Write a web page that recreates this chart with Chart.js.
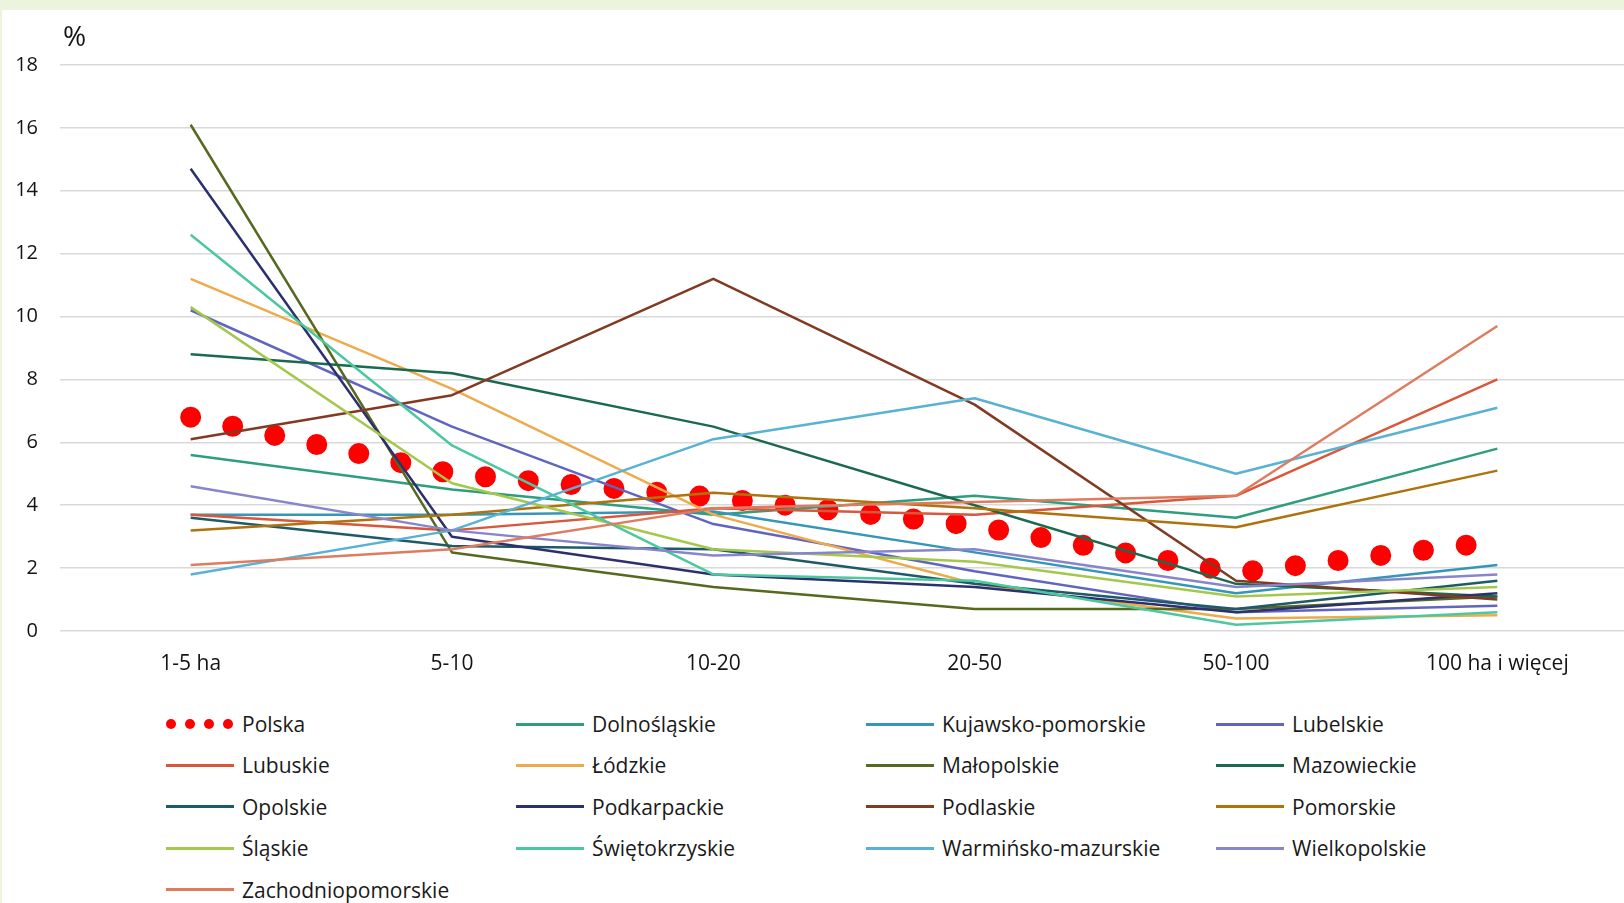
<!DOCTYPE html>
<html lang="pl">
<head>
<meta charset="utf-8">
<title>Gospodarstwa według grup obszarowych</title>
<script src="https://cdn.jsdelivr.net/npm/chart.js@4.4.1/dist/chart.umd.min.js"></script>
<style>
  html, body { margin: 0; padding: 0; }
  body {
    width: 1624px; height: 903px; position: relative; overflow: hidden;
    background: #ebf4dc; font-family: "Open Sans", sans-serif;
  }
  #panel { position: absolute; left: 2px; top: 10px; right: 0; bottom: 0; background: #fff; }
  #wykres { position: absolute; left: 0; top: 0; }
  #legenda { position: absolute; left: 0; top: 0; }
  .poz {
    position: absolute; height: 28px; display: flex; align-items: center;
    font-size: 21px; color: #1a1a1a; white-space: nowrap;
  }
  .znak { position: relative; width: 68px; height: 10px; margin-right: 8px; }
  .linia { position: absolute; left: 0; right: 0; top: 3.5px; height: 3px; }
  .kropka { position: absolute; top: 0; width: 10px; height: 10px; border-radius: 50%; }
</style>
</head>
<body>
<div id="panel"></div>
<canvas id="wykres" width="1628" height="682"></canvas>
<div id="legenda"></div>

<script>
const kategorie = ['1-5 ha', '5-10', '10-20', '20-50', '50-100', '100 ha i więcej'];

// udział gospodarstw w danej grupie obszarowej, %
const polska             = [6.8, 5.0, 4.25, 3.35, 1.85, 2.85];
const dolnoslaskie       = [5.6, 4.5, 3.7, 4.3, 3.6, 5.8];
const kujawskoPomorskie  = [3.7, 3.7, 3.8, 2.5, 1.2, 2.1];
const lubelskie          = [10.2, 6.5, 3.4, 1.9, 0.6, 0.8];
const lubuskie           = [3.7, 3.2, 3.9, 3.7, 4.3, 8.0];
const lodzkie            = [11.2, 7.7, 3.7, 1.5, 0.4, 0.5];
const malopolskie        = [16.1, 2.5, 1.4, 0.7, 0.7, 1.1];
const mazowieckie        = [8.8, 8.2, 6.5, 4.0, 1.5, 1.1];
const opolskie           = [3.6, 2.7, 2.6, 1.5, 0.7, 1.6];
const podkarpackie       = [14.7, 3.0, 1.8, 1.4, 0.6, 1.2];
const podlaskie          = [6.1, 7.5, 11.2, 7.2, 1.6, 1.0];
const pomorskie          = [3.2, 3.7, 4.4, 3.9, 3.3, 5.1];
const slaskie            = [10.3, 4.7, 2.6, 2.2, 1.1, 1.4];
const swietokrzyskie     = [12.6, 5.9, 1.8, 1.6, 0.2, 0.6];
const warminskoMazurskie = [1.8, 3.2, 6.1, 7.4, 5.0, 7.1];
const wielkopolskie      = [4.6, 3.2, 2.4, 2.6, 1.4, 1.8];
const zachodniopomorskie = [2.1, 2.6, 3.9, 4.1, 4.3, 9.7];

const nazwy = [
  'Polska', 'Dolnośląskie', 'Kujawsko-pomorskie', 'Lubelskie',
  'Lubuskie', 'Łódzkie', 'Małopolskie', 'Mazowieckie',
  'Opolskie', 'Podkarpackie', 'Podlaskie', 'Pomorskie',
  'Śląskie', 'Świętokrzyskie', 'Warmińsko-mazurskie', 'Wielkopolskie',
  'Zachodniopomorskie'
];
const wartosci = [
  polska, dolnoslaskie, kujawskoPomorskie, lubelskie,
  lubuskie, lodzkie, malopolskie, mazowieckie,
  opolskie, podkarpackie, podlaskie, pomorskie,
  slaskie, swietokrzyskie, warminskoMazurskie, wielkopolskie,
  zachodniopomorskie
];
const kolory = [
  '#ff0000', '#2e9e7e', '#3596b8', '#6165c0',
  '#d9573a', '#eeab4b', '#56691f', '#1b6a4e',
  '#1f5a69', '#2d306e', '#823a22', '#b0720c',
  '#a4c84c', '#4cc8a0', '#58b2d4', '#8885cc',
  '#df7c60'
];

const kolorTekstu = '#141414';
const czcionka = '"Open Sans", sans-serif';

// Polska rysowana jako gruba kropkowana linia, pod pozostałymi seriami
const datasets = nazwy.map((nazwa, i) => {
  const kropki = i === 0;
  return {
    label: nazwa,
    data: wartosci[i],
    borderColor: kolory[i],
    backgroundColor: kolory[i],
    borderWidth: kropki ? 21 : 2.5,
    borderDash: kropki ? [0, 43] : [],
    borderCapStyle: kropki ? 'round' : 'butt',
    borderJoinStyle: 'round',
    pointRadius: 0,
    pointHoverRadius: 0,
    tension: 0,
    fill: false,
    order: nazwy.length - i
  };
});

const znakProcentu = {
  id: 'znakProcentu',
  afterDraw(chart) {
    const ctx = chart.ctx;
    ctx.save();
    ctx.font = '28px ' + czcionka;
    ctx.fillStyle = kolorTekstu;
    ctx.textBaseline = 'middle';
    ctx.fillText('%', chart.chartArea.left + 3, 38);
    ctx.restore();
  }
};

const wykres = new Chart(document.getElementById('wykres'), {
  type: 'line',
  data: { labels: kategorie, datasets: datasets },
  options: {
    responsive: false,
    animation: false,
    devicePixelRatio: 1,
    layout: { padding: { top: 65, right: 0, bottom: 0, left: 0 } },
    plugins: {
      legend: { display: false },
      tooltip: { enabled: false }
    },
    scales: {
      x: {
        offset: true,
        grid: { display: false, drawTicks: false },
        border: { display: false },
        ticks: {
          color: kolorTekstu,
          font: { family: czcionka, size: 21 },
          padding: 20,
          maxRotation: 0,
          autoSkip: false
        },
        afterFit(scale) { scale.height = 51; }
      },
      y: {
        min: 0,
        max: 18,
        grid: { color: '#d9d9d9', lineWidth: 1.5, drawTicks: false },
        border: { display: false },
        ticks: {
          stepSize: 2,
          color: kolorTekstu,
          font: { family: czcionka, size: 20 },
          padding: 22
        },
        afterFit(scale) { scale.width = 60; }
      }
    }
  },
  plugins: [znakProcentu]
});

// legenda w czterech kolumnach, jak w oryginale
const legenda = document.getElementById('legenda');
wykres.data.datasets.forEach((ds, i) => {
  const kol = i % 4;
  const wiersz = Math.floor(i / 4);
  const poz = document.createElement('div');
  poz.className = 'poz';
  poz.style.left = (166 + kol * 350) + 'px';
  poz.style.top = (724 + wiersz * 41.4 - 14) + 'px';

  const znak = document.createElement('span');
  znak.className = 'znak';
  if (i === 0) {
    for (let k = 0; k < 4; k++) {
      const kropka = document.createElement('span');
      kropka.className = 'kropka';
      kropka.style.left = (k * 19) + 'px';
      kropka.style.background = ds.borderColor;
      znak.appendChild(kropka);
    }
  } else {
    const linia = document.createElement('span');
    linia.className = 'linia';
    linia.style.background = ds.borderColor;
    znak.appendChild(linia);
  }
  poz.appendChild(znak);

  const tekst = document.createElement('span');
  tekst.textContent = ds.label;
  poz.appendChild(tekst);
  legenda.appendChild(poz);
});
</script>
</body>
</html>
